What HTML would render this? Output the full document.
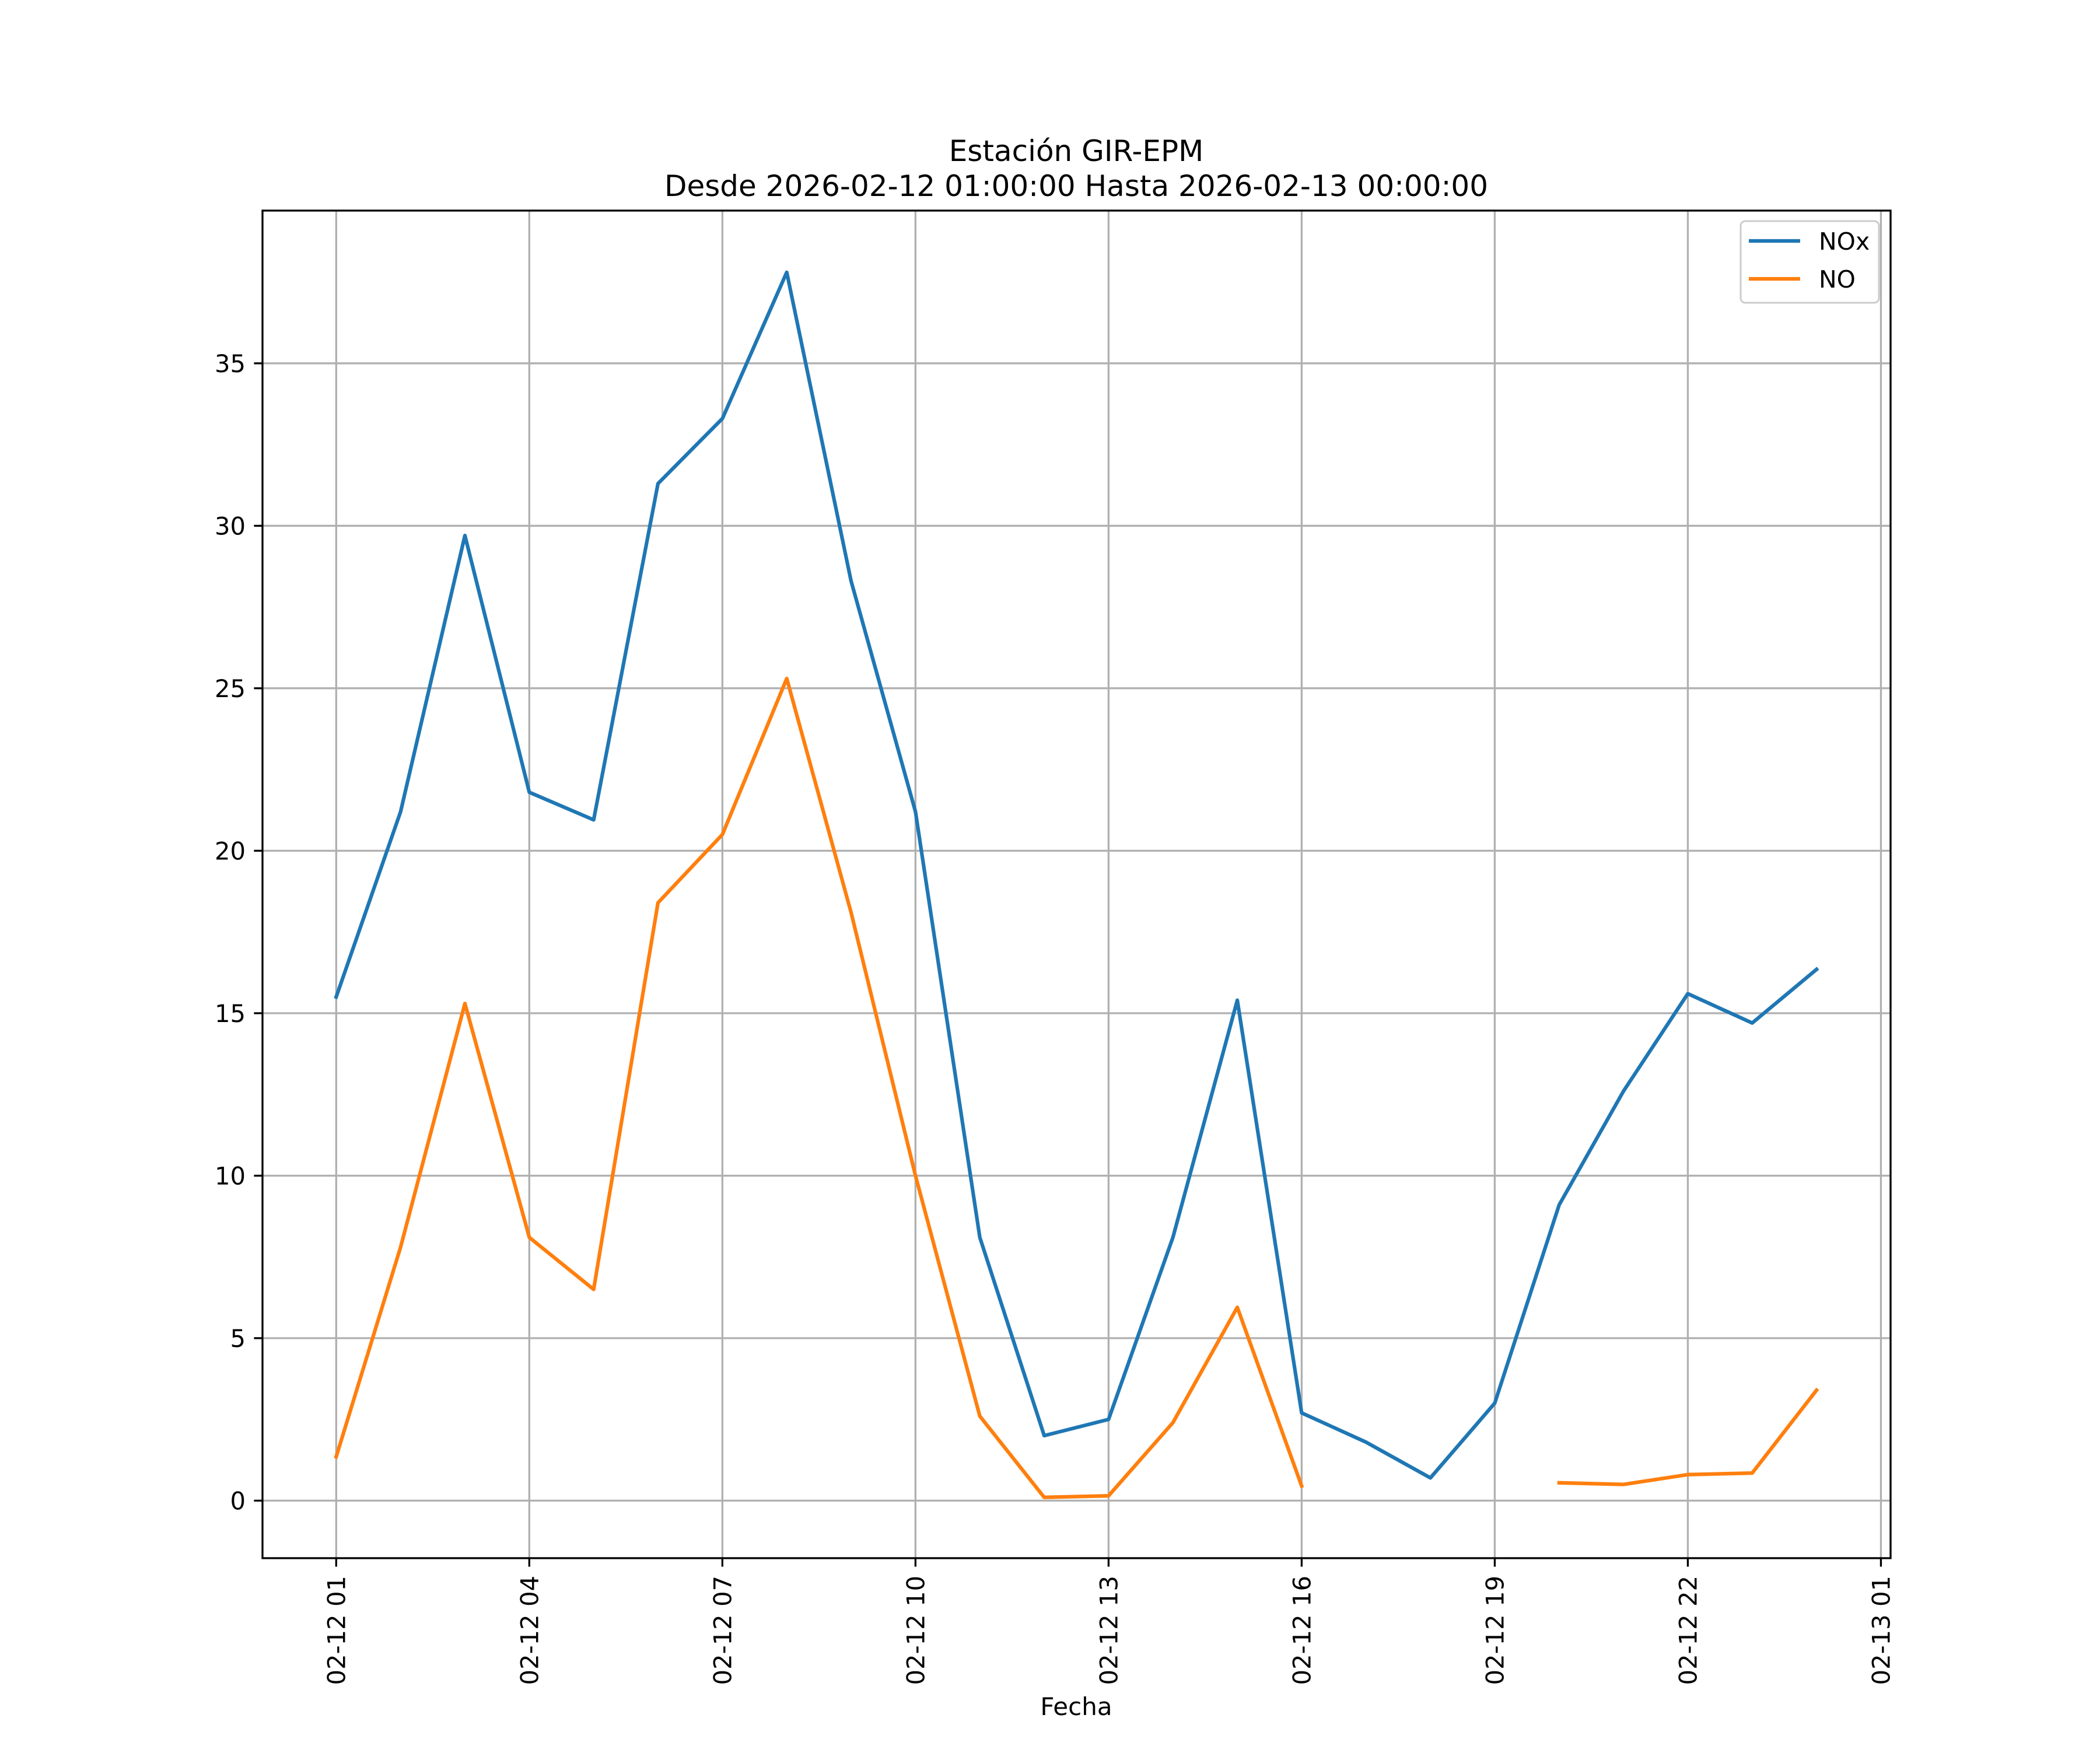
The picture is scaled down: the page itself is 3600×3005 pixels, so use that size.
<!DOCTYPE html>
<html><head><meta charset="utf-8"><style>
html,body{margin:0;padding:0;background:#fff;}
svg text{font-family:"DejaVu Sans","Liberation Sans",sans-serif;fill:#000;}
</style></head><body>
<svg id="chart" width="3600" height="3000" xmlns="http://www.w3.org/2000/svg">
<rect width="3600" height="3000" fill="#fff"/>
<g id="grid"></g>
<g id="series"></g>
<g id="axes"></g>
<text x="1845" y="276" font-size="50" text-anchor="middle">Estación GIR-EPM</text>
<text x="1845" y="336" font-size="50" text-anchor="middle">Desde 2026-02-12 01:00:00 Hasta 2026-02-13 00:00:00</text>
<text x="1845" y="2940" font-size="42" text-anchor="middle">Fecha</text>
<g>
<rect x="2984" y="379" width="237" height="140" rx="8" fill="#fff" fill-opacity="0.8" stroke="#ccc" stroke-width="3"/>
<line x1="2998" y1="413" x2="3086" y2="413" stroke="#1f77b4" stroke-width="6.25"/>
<text x="3118" y="428" font-size="41">NOx</text>
<line x1="2998" y1="478" x2="3086" y2="478" stroke="#ff7f0e" stroke-width="6.25"/>
<text x="3118" y="493" font-size="41">NO</text>
</g>
</svg>
<script>
const hours = [1,2,3,4,5,6,7,8,9,10,11,12,13,14,15,16,17,18,19,20,21,22,23,24];
const noxValues = [15.5,21.2,29.7,21.8,20.95,31.3,33.3,37.8,28.3,21.2,8.1,2.0,2.5,8.1,15.4,2.7,1.8,0.7,3.0,9.1,12.6,15.6,14.7,16.35];
const noValues = [1.35,7.8,15.3,8.1,6.5,18.4,20.5,25.3,18.1,10.0,2.6,0.1,0.15,2.4,5.95,0.45,null,null,null,0.55,0.5,0.8,0.85,3.4];
const xTickHours = [1,4,7,10,13,16,19,22,25];
const xTickLabels = ["02-12 01","02-12 04","02-12 07","02-12 10","02-12 13","02-12 16","02-12 19","02-12 22","02-13 01"];
const yTicks = [0,5,10,15,20,25,30,35];

const L=450,R=3241,T=361,B=2671;
const xMin=-0.145,xMax=25.15,yMin=-1.77,yMax=39.7;
const X=h=>L+(h-xMin)/(xMax-xMin)*(R-L);
const Y=v=>B-(v-yMin)/(yMax-yMin)*(B-T);
const NS="http://www.w3.org/2000/svg";
function mk(tag,attrs,parent){const e=document.createElementNS(NS,tag);for(const k in attrs)e.setAttribute(k,attrs[k]);parent.appendChild(e);return e;}
const grid=document.getElementById('grid'),axes=document.getElementById('axes'),series=document.getElementById('series');

xTickHours.forEach((h,i)=>{
  const x=X(h);
  const g=mk('line',{x1:x,y1:T,x2:x,y2:B,stroke:'#b0b0b0','stroke-width':3.3},grid);
  
  
  const t=mk('line',{x1:x,y1:B,x2:x,y2:B+14.6,stroke:'#000','stroke-width':3.3},axes);
  
  
  const lb=mk('text',{x:0,y:0,'font-size':41.7,'text-anchor':'end',transform:`translate(${x+15},${B+30}) rotate(-90)`},axes);
  lb.textContent=xTickLabels[i];
  
  
});
yTicks.forEach(v=>{
  const y=Y(v);
  const g=mk('line',{x1:L,y1:y,x2:R,y2:y,stroke:'#b0b0b0','stroke-width':3.3},grid);
  
  
  const t=mk('line',{x1:L-14.6,y1:y,x2:L,y2:y,stroke:'#000','stroke-width':3.3},axes);
  
  
  const lb=mk('text',{x:L-29,y:y+15,'font-size':41.7,'text-anchor':'end'},axes);
  lb.textContent=v;
  
  
});
const frame=mk('rect',{x:L,y:T,width:R-L,height:B-T,fill:'none',stroke:'#000','stroke-width':3.3},axes);



function drawSeries(vals,color,name){
  let segs=[],cur=[];
  vals.forEach((v,i)=>{if(v===null){if(cur.length)segs.push(cur);cur=[];}else cur.push(X(hours[i]).toFixed(1)+','+Y(v).toFixed(1));});
  if(cur.length)segs.push(cur);
  segs.forEach(s=>{
    const p=mk('polyline',{points:s.join(' '),fill:'none',stroke:color,'stroke-width':6.25,'stroke-linejoin':'round','stroke-linecap':'square'},series);
    
    
  });
}
drawSeries(noxValues,'#1f77b4','nox-line');
drawSeries(noValues,'#ff7f0e','no-line');
</script>
</body></html>
